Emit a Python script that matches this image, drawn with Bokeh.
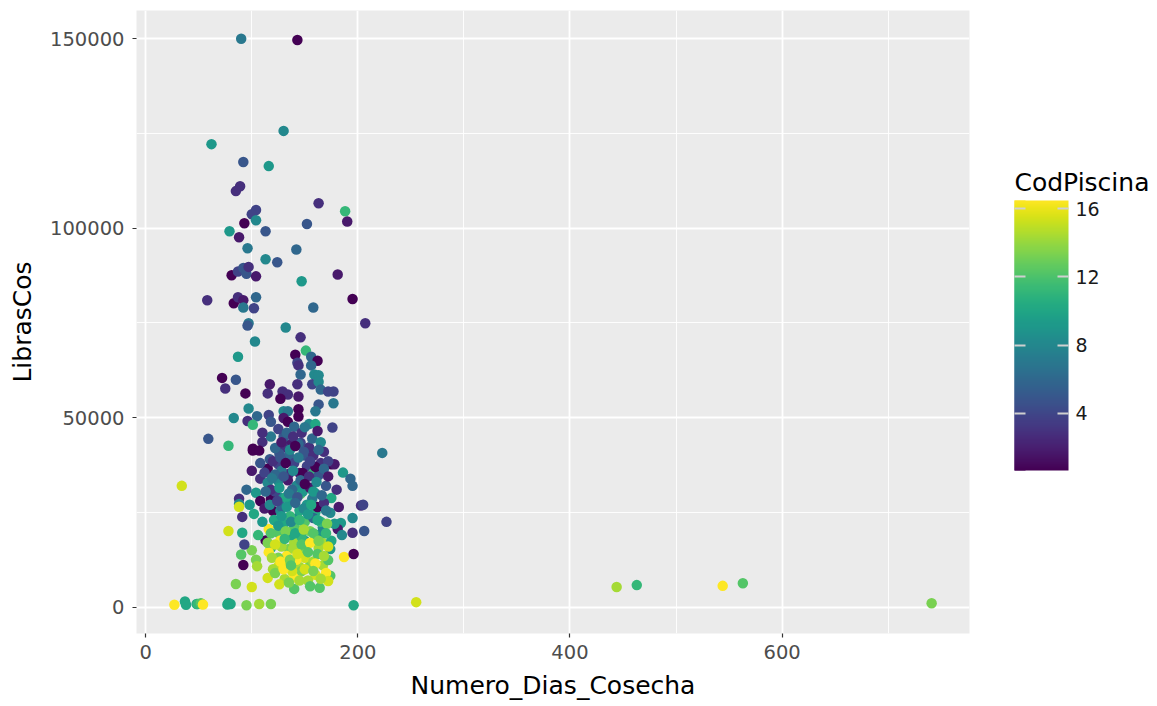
from bokeh.plotting import figure
from bokeh.models import (ColumnDataSource, LinearColorMapper, ColorBar, FixedTicker,
                          BasicTickFormatter, Range1d)
from bokeh.palettes import Viridis256
from bokeh.transform import transform
from bokeh.embed import file_html
from bokeh.resources import INLINE

# (Numero_Dias_Cosecha, LibrasCos, CodPiscina)
numero_dias = [
    90, 143, 62, 130, 92, 116, 89, 85, 163, 188, 190, 104, 100, 93, 104, 152, 79, 113, 88, 96,
    142, 113, 124, 147, 181, 81, 87, 92, 95, 97, 104, 58, 83, 87, 92, 104, 102, 92, 158, 195,
    207, 97, 96, 132, 103, 146, 87, 151, 141, 156, 162, 143, 144, 156, 146, 159, 163, 72, 85, 75,
    94, 117, 115, 129, 134, 127, 143, 144, 157, 163, 165, 172, 177, 177, 163, 160, 144, 130, 134, 97,
    105, 83, 96, 101, 116, 118, 130, 134, 144, 140, 154, 160, 176, 59, 78, 110, 101, 130, 137, 146,
    154, 168, 101, 107, 130, 144, 154, 117, 125, 138, 145, 152, 165, 175, 178, 186, 193, 195, 115, 108,
    115, 125, 135, 148, 158, 163, 104, 108, 118, 127, 137, 146, 157, 175, 88, 88, 88, 102, 91, 120,
    127, 143, 150, 160, 162, 174, 182, 184, 195, 203, 78, 91, 116, 125, 146, 165, 167, 181, 195, 206,
    227, 205, 223, 113, 118, 127, 135, 144, 151, 163, 167, 174, 187, 196, 90, 92, 104, 105, 116, 125,
    133, 145, 155, 167, 172, 174, 115, 131, 140, 147, 160, 170, 172, 164, 85, 100, 140, 48, 53, 80,
    95, 107, 118, 196, 27, 37, 38, 49, 52, 54, 77, 78, 255, 444, 463, 544, 563, 741, 34, 130,
    135, 140, 128, 150, 142, 148, 138, 132, 155, 160, 170, 152, 145, 136, 130, 140, 155, 160, 150, 140,
    133, 150, 158, 125, 120, 138, 153, 162, 175, 168, 122, 112, 110, 118, 126, 147, 157, 165, 172, 160,
    134, 122, 118, 128, 137, 147, 128, 142, 165, 178, 185, 158,
    125, 133, 139, 150, 162, 122, 128, 136, 141, 149, 158, 163, 120, 127, 132, 144, 155, 168,
    112, 119, 130, 139, 146, 154, 161, 172, 113, 126, 135, 143, 150, 158, 166, 180,
    117, 124, 133, 141, 149, 156, 170, 121, 128, 137, 145, 153, 162, 171,
    118, 125, 132, 141, 149, 158, 170, 115, 122, 131, 139, 147, 155, 163, 172,
    119, 127, 136, 143, 153, 160, 168, 122, 130, 137, 150, 158, 165, 126, 135, 145, 155,
    95, 100, 108, 110, 98, 106, 100, 93,
]
libras_cos = [
    150000, 149700, 122200, 125700, 117500, 116400, 111100, 109800, 106600, 104500, 101800, 104800, 103700, 101300, 102100, 101100, 99200, 99200, 97600, 94700,
    94400, 91800, 91000, 86000, 87800, 87600, 88600, 89500, 88000, 89800, 87300, 81000, 80200, 81800, 81000, 81800, 78900, 79100, 79100, 81300,
    74900, 74900, 74300, 73800, 70100, 71200, 66100, 67700, 66600, 66100, 65000, 64500, 63800, 63800, 61400, 61400, 61200, 60500, 60000, 57700,
    56400, 58800, 56400, 56900, 56100, 55000, 58800, 55600, 58800, 59500, 57400, 56900, 56900, 53800, 53500, 51700, 52200, 51700, 51700, 52400,
    50400, 49900, 49100, 48100, 50700, 48900, 49900, 48900, 50300, 47600, 48300, 48300, 47400, 44400, 42600, 43600, 41800, 44200, 42900, 43400,
    42100, 41000, 41300, 41300, 42100, 43100, 42100, 39000, 37700, 38800, 35400, 37200, 38000, 37700, 37700, 35500, 33900, 32000, 36500, 33900,
    32800, 33300, 35200, 35400, 35400, 34800, 30200, 28000, 28600, 28800, 28000, 29900, 28600, 28800, 28600, 27200, 26500, 24600, 23800, 25400,
    25400, 23500, 22500, 25000, 26400, 24900, 26400, 22200, 23500, 26800, 20100, 19600, 20600, 19600, 20300, 19300, 21000, 20600, 19600, 20100,
    22500, 27000, 40700, 17600, 15600, 17600, 15300, 15600, 15000, 15600, 16900, 15300, 13200, 14000, 13900, 11100, 12500, 10800, 14500, 10800,
    11900, 10600, 11000, 11000, 12400, 8300, 7700, 7400, 7900, 9500, 8500, 9000, 6900, 5100, 6100, 5300, 4800, 800, 800, 800,
    500, 800, 800, 500, 600, 1500, 600, 800, 1000, 700, 700, 1100, 1300, 5300, 5800, 5600, 6300, 1000, 32000, 45000,
    40000, 38000, 36000, 40000, 32000, 30500, 31000, 29000, 31500, 30000, 32000, 27000, 25500, 24000, 22000, 21000, 20000, 18000, 17500, 17000,
    13500, 13000, 12000, 13000, 10000, 9500, 7000, 14000, 17500, 27500, 30500, 26000, 22500, 45000, 40500, 46000, 44500, 43500, 38500, 37000,
    33500, 35000, 31000, 26500, 19000, 18500, 16000, 12500, 22500, 22000, 19000, 23500,
    47000, 46000, 45000, 47500, 46500, 42000, 43500, 41500, 42500, 41000, 40000, 41500, 38500, 39500, 38000, 39500, 38500, 36500,
    35500, 34000, 34500, 36000, 33500, 34500, 33000, 34500, 30500, 31500, 30000, 29000, 32500, 30500, 29500, 31000,
    27000, 28000, 26500, 27500, 26000, 27000, 25500, 23000, 24000, 22500, 23000, 24500, 23000, 22000,
    19500, 21500, 20000, 19500, 20500, 19500, 19500, 17000, 16500, 18000, 15500, 16500, 17000, 17500, 16000,
    13000, 12000, 12500, 14000, 14500, 11500, 13500, 9000, 10000, 11000, 10000, 9500, 7500, 6000, 6500, 7000, 5500,
    31000, 36000, 38000, 46000, 27000, 19000, 15000, 16500,
]
cod_piscina = [
    7, 1, 9, 8, 5, 9, 3, 3, 3, 11, 2, 4, 4, 1, 8, 5, 9, 5, 2, 7,
    6, 8, 5, 9, 2, 1, 4, 5, 5, 3, 2, 3, 1, 3, 2, 6, 4, 7, 6, 1,
    3, 7, 5, 8, 8, 3, 9, 11, 1, 6, 1, 4, 3, 6, 6, 8, 8, 1, 5, 3,
    1, 2, 3, 3, 3, 1, 3, 2, 4, 8, 6, 4, 4, 7, 5, 7, 1, 8, 7, 8,
    6, 8, 3, 11, 4, 5, 2, 1, 1, 6, 8, 10, 4, 5, 11, 3, 1, 6, 2, 4,
    8, 3, 1, 1, 3, 6, 3, 5, 4, 3, 2, 4, 3, 1, 2, 9, 6, 6, 1, 3,
    8, 8, 3, 1, 11, 5, 9, 1, 1, 8, 9, 12, 7, 10, 3, 8, 15, 10, 3, 1,
    8, 8, 12, 10, 1, 8, 2, 9, 8, 3, 15, 10, 16, 12, 13, 9, 8, 2, 3, 5,
    4, 4, 7, 1, 10, 16, 13, 16, 13, 14, 14, 9, 16, 1, 12, 1, 13, 14, 16, 15,
    14, 14, 13, 14, 12, 12, 15, 14, 16, 13, 15, 16, 15, 12, 13, 15, 12, 10, 16, 10,
    13, 14, 13, 10, 16, 10, 10, 11, 12, 16, 10, 10, 15, 14, 11, 16, 12, 13, 15, 5,
    6, 4, 7, 5, 8, 9, 6, 10, 2, 7, 5, 9, 10, 11, 10, 12, 13, 11, 9, 14,
    16, 15, 14, 13, 14, 15, 14, 12, 10, 3, 4, 2, 9, 7, 5, 3, 6, 8, 4, 1,
    2, 6, 3, 6, 10, 11, 14, 16, 11, 9, 8, 6,
    4, 6, 3, 7, 2, 6, 2, 8, 1, 5, 3, 6, 3, 5, 1, 7, 4, 6,
    4, 7, 5, 8, 6, 3, 8, 2, 6, 9, 7, 5, 1, 9, 6, 3,
    8, 4, 9, 6, 8, 10, 7, 10, 9, 8, 11, 9, 10, 13,
    12, 9, 13, 10, 14, 12, 11, 13, 15, 11, 14, 12, 16, 13, 15,
    14, 16, 13, 15, 12, 16, 14, 13, 16, 12, 15, 13, 14, 15, 13, 14, 12,
    6, 2, 5, 3, 9, 11, 13, 4,
]

x_ticks = [0, 200, 400, 600]
x_minor = [100, 300, 500, 700]
y_ticks = [0, 50000, 100000, 150000]
y_minor = [25000, 75000, 125000]
bar_ticks = [4, 8, 12, 16]
legend_title = "CodPiscina"

src = ColumnDataSource(dict(x=numero_dias, y=libras_cos, c=cod_piscina))

def expand(v):
    lo, hi = min(v), max(v)
    d = (hi - lo) * 0.05
    return lo - d, hi + d

xr = expand(numero_dias)
yr = expand(libras_cos)

p = figure(frame_width=833, frame_height=623, output_backend="svg", toolbar_location=None,
           x_range=Range1d(*xr), y_range=Range1d(*yr),
           min_border_left=136, min_border_top=10, min_border_right=188, min_border_bottom=72,
           background_fill_color="#EBEBEB", border_fill_color="white")
p.outline_line_color = None

mapper = LinearColorMapper(palette=Viridis256, low=min(cod_piscina), high=max(cod_piscina))
p.scatter("x", "y", source=src, size=10.5, fill_color=transform("c", mapper), line_color=None)

for ax, t, mn in ((p.xaxis[0], x_ticks, x_minor), (p.yaxis[0], y_ticks, y_minor)):
    ax.ticker = FixedTicker(ticks=t, minor_ticks=mn)
    ax.axis_line_color = None
    ax.major_tick_out = 4
    ax.major_tick_in = 0
    ax.minor_tick_out = 0
    ax.minor_tick_in = 0
    ax.major_tick_line_color = "#333333"
    ax.major_tick_line_width = 1.2
    ax.major_label_text_font = "DejaVu Sans"
    ax.major_label_text_font_size = "19.5px"
    ax.major_label_text_color = "#4D4D4D"
    ax.axis_label_text_font = "DejaVu Sans"
    ax.axis_label_text_font_size = "25px"
    ax.axis_label_text_font_style = "normal"
    ax.axis_label_text_color = "black"

p.xaxis.axis_label = "Numero_Dias_Cosecha"
p.yaxis.axis_label = "LibrasCos"
p.yaxis.formatter = BasicTickFormatter(use_scientific=False)
p.xaxis.major_label_standoff = 7
p.xaxis.axis_label_standoff = 9
p.yaxis.major_label_standoff = 8
p.yaxis.axis_label_standoff = 10

for g in (p.xgrid[0], p.ygrid[0]):
    g.grid_line_color = "white"
    g.grid_line_width = 1.8
    g.minor_grid_line_color = "white"
    g.minor_grid_line_width = 0.9

bar_mapper = LinearColorMapper(palette=Viridis256, low=0.66, high=16.47)
cb_common = dict(color_mapper=bar_mapper, ticker=FixedTicker(ticks=bar_ticks),
                 height=270, location=(878, 163),
                 major_tick_in=11, major_tick_out=0, major_tick_line_color="#D0D0D0",
                 major_tick_line_width=2, minor_tick_line_color=None,
                 bar_line_color=None, border_line_color=None, background_fill_color=None,
                 padding=0, margin=0)
cb = ColorBar(width=54, major_label_text_font="DejaVu Sans", major_label_text_font_size="19px",
              major_label_text_color="#1A1A1A", label_standoff=7, **cb_common)
p.add_layout(cb, "center")
# narrow overlay bar carrying the left-hand tick marks
cb_left = ColorBar(width=11, major_label_text_color=None, major_label_text_font_size="1px",
                   **cb_common)
p.add_layout(cb_left, "center")

# legend title drawn horizontally by an invisible horizontal colour bar
cb_title = ColorBar(color_mapper=bar_mapper, orientation="horizontal", width=136, height=1,
                    location=(878, 436), title=legend_title, title_text_font="DejaVu Sans",
                    title_text_font_size="25px", title_text_font_style="normal",
                    title_text_color="black", title_standoff=0, scale_alpha=0,
                    ticker=FixedTicker(ticks=[]), major_tick_line_color=None,
                    minor_tick_line_color=None, major_label_text_color=None,
                    major_label_text_font_size="1px",
                    bar_line_color=None, border_line_color=None, background_fill_color=None,
                    padding=0, margin=0)
p.add_layout(cb_title, "center")

open("out.html", "w").write(file_html(p, INLINE))
